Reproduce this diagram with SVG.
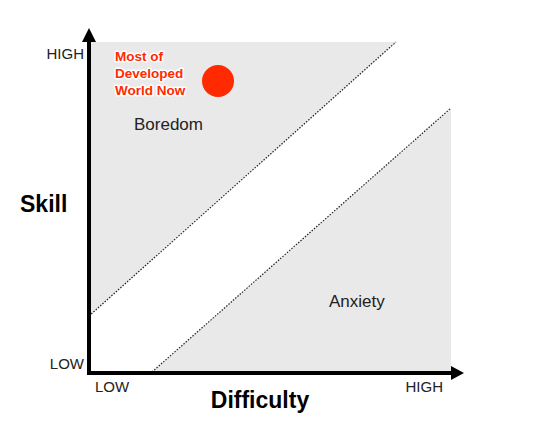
<svg xmlns="http://www.w3.org/2000/svg" width="540" height="445" viewBox="0 0 540 445">
<defs>
<style>
.lbl{font-family:"Liberation Sans",Arial,sans-serif;fill:#222;font-size:15px}
.big{font-size:17px}
.ttl{font-family:"Liberation Sans",Arial,sans-serif;fill:#000;font-weight:bold;font-size:23px}
.red{font-family:"Liberation Sans",Arial,sans-serif;fill:#ff2a00;font-weight:bold;font-size:13.5px;stroke:#fff;stroke-width:3;paint-order:stroke;stroke-linejoin:round}
.zone{fill:#e9e9e9}
.dot{stroke:#222;stroke-width:1.2;stroke-dasharray:1.5 1.5;fill:none}
</style>
</defs>
<rect width="540" height="445" fill="#fff"/>
<g id="boredom-zone">
<polygon class="zone" points="89,42 396,42 89,316"/>
<line class="dot" x1="89" y1="316" x2="396" y2="42"/>
<text class="lbl big" x="134" y="130">Boredom</text>
</g>
<g id="anxiety-zone">
<polygon class="zone" points="152,372 451,108 451,372"/>
<line class="dot" x1="152" y1="372" x2="451" y2="108"/>
<text class="lbl big" x="329" y="307">Anxiety</text>
</g>
<g id="marker">
<circle cx="218" cy="81" r="16" fill="#ff2a00"/>
<text class="red" x="115" y="61">Most of</text>
<text class="red" x="115" y="78">Developed</text>
<text class="red" x="115" y="95">World Now</text>
</g>
<g id="axes">
<line x1="89" y1="375" x2="89" y2="40" stroke="#000" stroke-width="4"/>
<polygon points="89,28 82,42 96,42" fill="#000"/>
<line x1="87" y1="373" x2="452" y2="373" stroke="#000" stroke-width="4"/>
<polygon points="464,373 451,366 451,380" fill="#000"/>
</g>
<g id="labels">
<text class="lbl" x="84" y="59" text-anchor="end">HIGH</text>
<text class="lbl" x="84" y="369" text-anchor="end">LOW</text>
<text class="lbl" x="95" y="392">LOW</text>
<text class="lbl" x="443" y="392" text-anchor="end">HIGH</text>
<text class="ttl" x="20" y="212">Skill</text>
<text class="ttl" x="260" y="408" text-anchor="middle">Difficulty</text>
</g>
</svg>
